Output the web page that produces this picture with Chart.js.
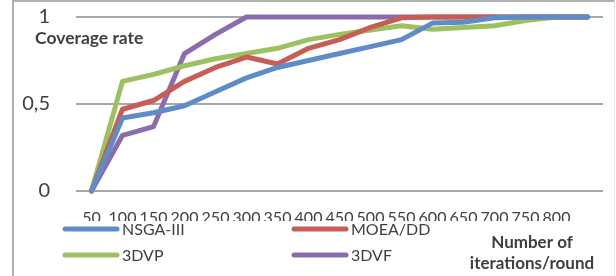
<!DOCTYPE html>
<html lang="en">
<head>
    <meta charset="UTF-8">
    <title>Coverage rate</title>
    <script src="https://cdn.jsdelivr.net/npm/chart.js"></script>
    <style>
        html, body {
            margin: 0;
            padding: 0;
            background: #fff;
        }
        #wrap {
            position: relative;
            width: 616px;
            height: 276px;
            overflow: hidden;
        }
        #frame {
            position: absolute;
            left: 12px;
            top: 0;
            width: 600px;
            height: 290px;
            border-top: 2px solid #b0b0b0;
            border-left: 2px solid #b0b0b0;
            border-right: 1px solid #e4e4e4;
        }
        canvas {
            position: absolute;
            left: 0;
            top: 0;
        }
    </style>
</head>
<body>
<div id="wrap">
    <div id="frame"></div>
    <canvas id="chart" width="616" height="276"></canvas>
</div>

<script>
    const iterations = ["50", "100", "150", "200", "250", "300", "350", "400", "450", "500", "550", "600", "650", "700", "750", "800", ""];
    const yTicks = [0, 0.5, 1];

    const nsga3 = [0, 0.42, 0.45, 0.49, 0.57, 0.65, 0.71, 0.75, 0.79, 0.83, 0.87, 0.965, 0.97, 0.995, 1, 1, 1];
    const moeadd = [0, 0.47, 0.52, 0.63, 0.71, 0.77, 0.73, 0.82, 0.87, 0.94, 0.995, 1, 1, 1, 1, 1, 1];
    const dvp3 = [0, 0.63, 0.67, 0.72, 0.76, 0.79, 0.82, 0.87, 0.9, 0.925, 0.95, 0.93, 0.94, 0.95, 0.98, 1, 1];
    const dvf3 = [0, 0.32, 0.37, 0.79, 0.9, 1, 1, 1, 1, 1, 1, 1, 1, 1, 1, 1, 1];

    const seriesNames = ["NSGA-III", "MOEA/DD", "3DVP", "3DVF"];
    const seriesColors = ["#5f8cc9", "#c75d55", "#9dc161", "#8b6cac"];

    const FONT = "Lato, 'Open Sans', sans-serif";

    function line(label, data, color) {
        return {
            label: label,
            data: data,
            borderColor: color,
            backgroundColor: color,
            borderWidth: 5,
            pointRadius: 0,
            tension: 0,
            borderJoinStyle: 'round',
            borderCapStyle: 'round',
            clip: 6
        };
    }

    // legend, axis titles drawn by hand because of the odd placement
    const extras = {
        id: 'extras',
        afterDraw(chart) {
            const ctx = chart.ctx;
            ctx.save();
            ctx.fillStyle = '#404040';
            ctx.textBaseline = 'middle';

            ctx.font = "bold 17.5px " + FONT;
            ctx.textAlign = 'left';
            ctx.fillText("Coverage rate", 35, 38);

            ctx.font = "bold 17px " + FONT;
            ctx.textAlign = 'center';
            ctx.fillText("Number of", 532, 243);
            ctx.fillText("iterations/round", 532, 264);

            const spots = [[63, 229], [292, 229], [63, 255], [292, 255]];
            ctx.font = "16px " + FONT;
            ctx.textAlign = 'left';
            chart.data.datasets.forEach((ds, i) => {
                const [x, y] = spots[i];
                ctx.strokeStyle = ds.borderColor;
                ctx.lineWidth = 5;
                ctx.lineCap = 'round';
                ctx.beginPath();
                ctx.moveTo(x + 2, y);
                ctx.lineTo(x + 54, y);
                ctx.stroke();
                ctx.fillStyle = '#404040';
                ctx.fillText(ds.label, x + 59, y + 1);
            });
            ctx.restore();
        }
    };

    const chart = new Chart(document.getElementById('chart'), {
        type: 'line',
        data: {
            labels: iterations,
            datasets: seriesNames.map((n, i) => line(n, [nsga3, moeadd, dvp3, dvf3][i], seriesColors[i]))
        },
        options: {
            responsive: false,
            animation: false,
            layout: {
                padding: { left: 0, top: 17, right: 13, bottom: 55 }
            },
            plugins: {
                legend: { display: false },
                tooltip: { enabled: false }
            },
            scales: {
                x: {
                    offset: true,
                    grid: { display: false, drawTicks: false },
                    border: { display: false },
                    afterFit(scale) {
                        scale.height = 30;
                        scale.paddingLeft = 0;
                        scale.paddingRight = 0;
                    },
                    ticks: {
                        autoSkip: false,
                        maxRotation: 0,
                        minRotation: 0,
                        padding: 17,
                        color: '#404040',
                        font: { family: FONT, size: 16 }
                    }
                },
                y: {
                    min: 0,
                    max: 1,
                    afterFit(scale) {
                        scale.width = 76;
                        scale.paddingTop = 0;
                        scale.paddingBottom = 0;
                    },
                    afterBuildTicks(scale) {
                        scale.ticks = yTicks.map(v => ({ value: v }));
                    },
                    grid: { color: '#a8a8a8', lineWidth: 2, drawTicks: false },
                    border: { display: false },
                    ticks: {
                        padding: 26,
                        color: '#404040',
                        font: { family: FONT, size: 20 },
                        callback: v => String(v).replace('.', ',')
                    }
                }
            }
        },
        plugins: [extras]
    });
</script>
</body>
</html>
